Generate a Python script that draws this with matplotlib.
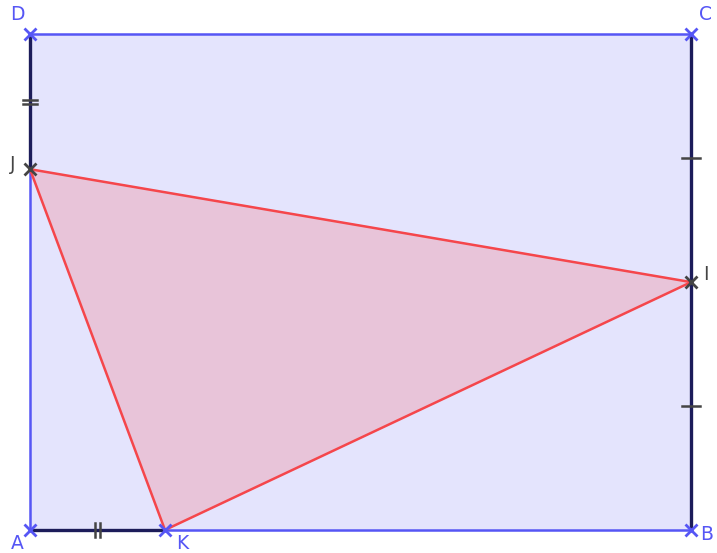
import matplotlib
matplotlib.use("Agg")
import matplotlib.pyplot as plt
import numpy as np

# rectangle ABCD and points (units: AB = 12, AD = 9)
names = ["A", "B", "C", "D", "K", "J", "I"]
xs = [0, 12, 12, 0, 2.45, 0, 12]
ys = [0, 0, 9, 9, 0, 6.55, 4.5]
P = {n: np.array([x, y]) for n, x, y in zip(names, xs, ys)}

blue = "#5656f5"
navy = "#1c1c5a"
red = "#f5464b"
grey = "#444444"

fig = plt.figure(figsize=(7.17, 5.53), dpi=100)
ax = fig.add_axes([0, 0, 1, 1])
ax.set_xlim(-0.545, 12.47)
ax.set_ylim(-0.418, 9.622)
ax.axis("off")

# fills
rect = [P[n] for n in "ABCD"]
ax.fill(*zip(*rect), color="#e4e4fd", zorder=0)
tri = [P[n] for n in "JIK"]
ax.fill(*zip(*tri), color="#e8c4d9", zorder=1)

def seg(a, b, color, lw):
    ax.plot([P[a][0], P[b][0]], [P[a][1], P[b][1]], color=color, lw=lw,
            solid_capstyle="butt", zorder=2)

# sides
seg("D", "C", blue, 1.8)
seg("K", "B", blue, 1.8)
seg("J", "A", blue, 1.8)
seg("D", "J", navy, 2.4)
seg("A", "K", navy, 2.4)
seg("B", "C", navy, 2.4)
# triangle
seg("J", "I", red, 1.8)
seg("I", "K", red, 1.8)
seg("K", "J", red, 1.8)

# tick marks for equal segments
def ticks(a, b, n, half=0.13, gap=0.08):
    pa, pb = P[a], P[b]
    m = (pa + pb) / 2
    d = (pb - pa) / np.linalg.norm(pb - pa)
    perp = np.array([-d[1], d[0]])
    offs = [0] if n == 1 else [-gap / 2, gap / 2]
    for o in offs:
        c = m + d * o
        p1, p2 = c - perp * half, c + perp * half
        ax.plot([p1[0], p2[0]], [p1[1], p2[1]], color=grey, lw=1.8, zorder=3)

ticks("D", "J", 2)
ticks("A", "K", 2)
ticks("C", "I", 1, half=0.16)
ticks("I", "B", 1, half=0.16)

# points
pt_color = {"A": blue, "B": blue, "C": blue, "D": blue, "K": blue, "J": grey, "I": grey}
for n in names:
    ax.plot(P[n][0], P[n][1], marker="x", ms=8, mew=2, color=pt_color[n], zorder=4)

# labels (offsets in pixels)
lab_off = {"A": (-13, -14), "B": (16, -5), "C": (14, 20), "D": (-13, 20),
           "K": (17, -14), "J": (-17, 5), "I": (15, 8)}
for n in names:
    ax.annotate(n, P[n], xytext=lab_off[n], textcoords="offset pixels",
                ha="center", va="center", fontsize=13.5, color=pt_color[n])

fig.savefig("out.png", dpi=100)
